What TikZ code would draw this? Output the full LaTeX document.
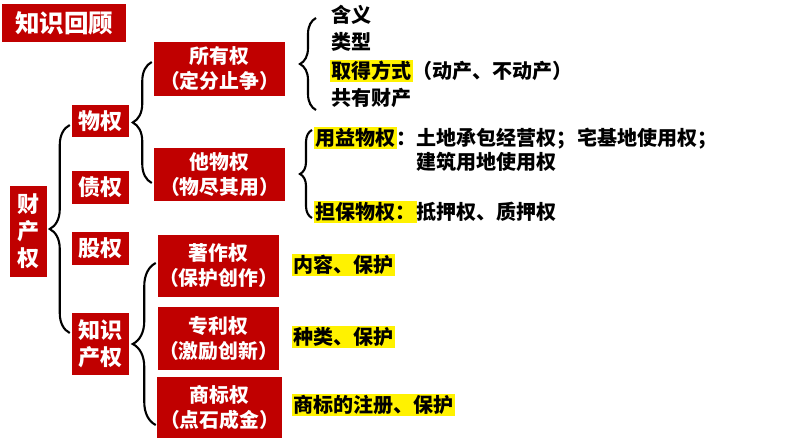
\documentclass[tikz,border=0pt]{standalone}
\usepackage{fontspec}
\setmainfont{Noto Sans CJK SC}
\usetikzlibrary{decorations.pathreplacing,calc}
\definecolor{boxred}{RGB}{192,0,0}
\newcommand{\hlt}[1]{{\setlength{\fboxsep}{1pt}\colorbox{yellow}{#1}}}

\begin{document}
\begin{tikzpicture}[x=0.03cm,y=-0.03cm,
	curly/.style={decorate,decoration={brace,amplitude=#1},line width=1.8pt}]
	\useasboundingbox (0,0) rectangle (794,447);
	
	\begin{scope}[every node/.style={fill=boxred,text=white,inner sep=0pt,align=center,font=\bfseries\fontsize{16.9}{21.3}\selectfont}]
		\node[minimum width=3.72cm,minimum height=1.14cm,font=\bfseries\fontsize{20.9}{24}\selectfont] (title) at (64,23) {知识回顾};
		\node[minimum width=1.11cm,minimum height=2.73cm,font=\bfseries\fontsize{18.8}{23}\selectfont] (cai) at (28.5,231.5) {财\\产\\权};
		\node[minimum width=1.71cm,minimum height=0.96cm,font=\bfseries\fontsize{18.8}{23}\selectfont] (wu) at (100.5,121) {物权};
		\node[minimum width=1.71cm,minimum height=0.99cm,font=\bfseries\fontsize{18.8}{23}\selectfont] (zhai) at (100.5,187.5) {债权};
		\node[minimum width=1.71cm,minimum height=0.99cm,font=\bfseries\fontsize{18.8}{23}\selectfont] (gu) at (100.5,248.5) {股权};
		\node[minimum width=1.71cm,minimum height=1.86cm,font=\bfseries\fontsize{18.8}{23}\selectfont] (zhi) at (100.5,344) {知识\\产权};
		\node[minimum width=3.93cm,minimum height=1.62cm] (suoyou) at (219.5,69) {所有权\\（定分止争）};
		\node[minimum width=3.93cm,minimum height=1.59cm] (tawu) at (219.5,174.5) {他物权\\（物尽其用）};
		\node[minimum width=3.63cm,minimum height=1.86cm] (zhuzuo) at (218.5,266) {著作权\\（保护创作）};
		\node[minimum width=3.63cm,minimum height=1.89cm] (zhuanli) at (218.5,338.5) {专利权\\（激励创新）};
		\node[minimum width=3.75cm,minimum height=1.83cm] (shangbiao) at (219.5,407.5) {商标权\\（点石成金）};
	\end{scope}
	
	\begin{scope}[every node/.style={anchor=west,inner sep=0pt,font=\bfseries\fontsize{17.1}{20}\selectfont}]
		\node (han) at (331,15) {含义};
		\node (leixing) at (331,42) {类型};
		\node (qude) at (330,71) {\hlt{取得方式}（动产、不动产）};
		\node (gongyou) at (331,98) {共有财产};
		\node (yongyi) at (314,138) {\hlt{用益物权}：土地承包经营权；宅基地使用权；};
		\node (jianzhu) at (416,162) {建筑用地使用权};
		\node (danbao) at (314,212) {\hlt{担保物权：}抵押权、质押权};
		\node (neirong) at (292,265) {\hlt{内容、保护}};
		\node (zhonglei) at (292,337) {\hlt{种类、保护}};
		\node (zhuce) at (292,405) {\hlt{商标的注册、保护}};
	\end{scope}
	
	% braces, drawn bottom to top so the tip points left
	\draw[curly=0.6cm] ($(zhi.west)+(-2,-11)$) -- ($(wu.west)+(-2,4)$);
	\draw[curly=0.57cm] ($(tawu.west)+(-2,8.5)$) -- ($(suoyou.west)+(-2,-7)$);
	\draw[curly=0.69cm] ($(shangbiao.west)+(-1,17.5)$) -- ($(zhuzuo.west)+(-2,-3)$);
	\draw[curly=0.48cm] ($(gongyou.west)+(-15,12)$) -- ($(han.west)+(-15,3)$);
	\draw[curly=0.36cm] ($(danbao.west)+(-2,6)$) -- ($(yongyi.west)+(-2,-8)$);
\end{tikzpicture}
\end{document}
